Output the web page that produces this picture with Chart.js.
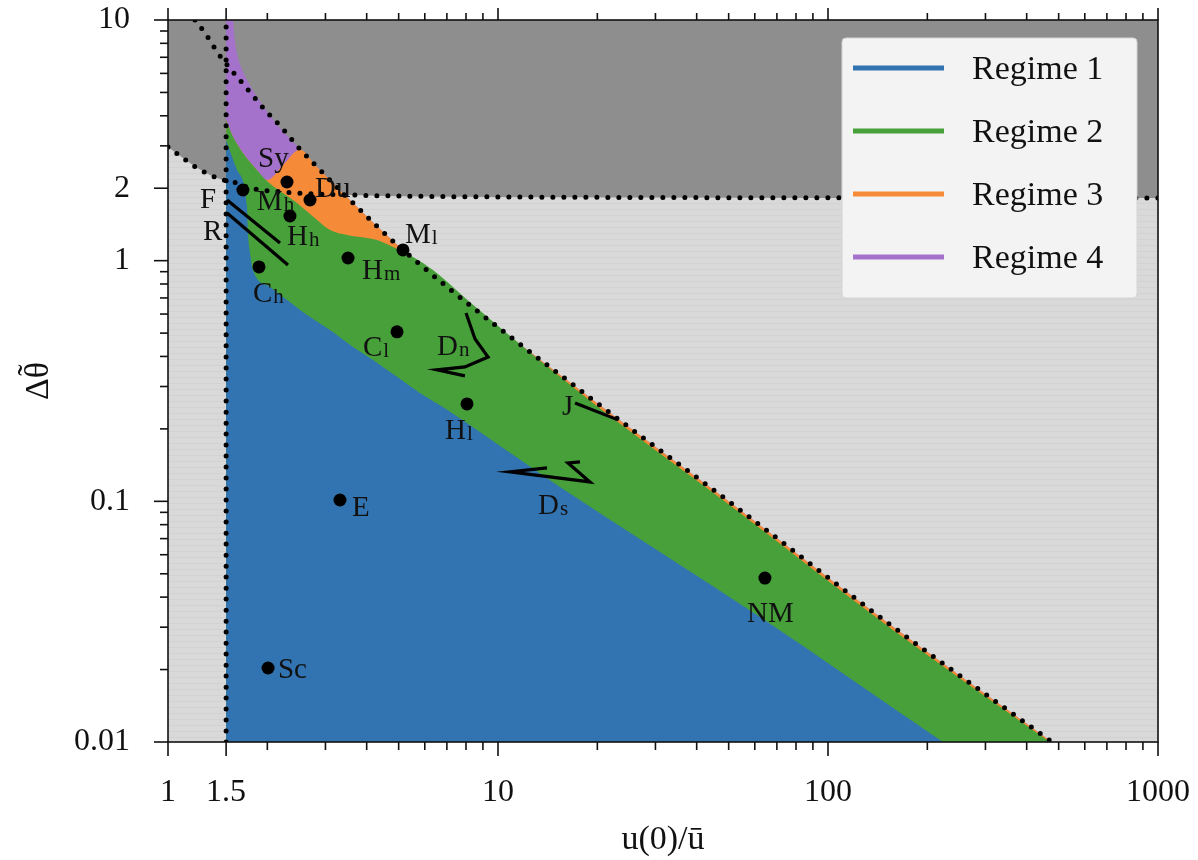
<!DOCTYPE html>
<html>
<head>
<meta charset="utf-8">
<script src="https://cdn.jsdelivr.net/npm/chart.js@4.4.0/dist/chart.umd.min.js"></script>
<style>
  html, body { margin: 0; padding: 0; background: #fff; }
</style>
</head>
<body>
<canvas id="chart" width="1198" height="860"></canvas>
<script>
// region boundaries (x = u(0)/ū, y = Δθ̃)
const darkX = [1, 1.11, 1.224, 1.34, 1.468, 1.619, 1.772, 2.232, 3.56, 10.14, 1000];
const darkY = [2.97, 2.67, 2.43, 2.27, 2.164, 2.10, 2.005, 1.929, 1.875, 1.84, 1.82];

const upperX = [1.207, 1.295, 1.417, 1.574, 1.772, 1.967, 2.216, 2.477, 2.79, 3.56, 5.153, 19.4, 49.4, 157.4, 477];
const upperY = [10, 8.83, 7.29, 6.08, 5.02, 4.23, 3.56, 2.97, 2.50, 1.787, 1.108, 0.2638, 0.1013, 0.0301, 0.01];

const lineX = [1.5, 1.5];
const lineY = [0.01, 10];

// top edge of each regime (filled down to the bottom axis, drawn 4 -> 1)
const reg4X = [1.5, 1.575, 1.59, 1.62, 1.68, 1.78, 1.92, 2.1, 2.3, 2.55, 2.79, 3.56, 5.153, 19.4, 49.4, 157.4, 477];
const reg4Y = [10, 10, 8.5, 7.2, 6.2, 5.3, 4.5, 3.8, 3.3, 2.85, 2.50, 1.787, 1.108, 0.2638, 0.1013, 0.0301, 0.01];
const reg3X = [1.5, 1.574, 1.687, 1.859, 1.995, 2.232, 2.512, 2.79, 3.56, 5.153, 19.4, 49.4, 157.4, 477];
const reg3Y = [3.84, 3.27, 2.80, 2.38, 2.164, 2.50, 2.90, 2.50, 1.787, 1.108, 0.2638, 0.1013, 0.0301, 0.01];
const reg2X = [1.5, 1.574, 1.687, 1.859, 1.995, 2.46, 2.83, 3.097, 3.487, 3.818, 4.3, 4.807, 5.526, 6.353, 7.305, 8.23, 19.4, 49.4, 157.4, 470];
const reg2Y = [3.84, 3.27, 2.80, 2.38, 2.144, 1.737, 1.476, 1.341, 1.279, 1.254, 1.219, 1.140, 1.036, 0.915, 0.778, 0.671, 0.2564, 0.0985, 0.0292, 0.01];
const reg1X = [1.5, 1.619, 1.735, 1.747, 1.772, 1.809, 2.036, 2.294, 2.694, 3.097, 3.636, 4.18, 4.943, 5.80, 7.01, 11.1, 15.41, 62.2, 223];
const reg1Y = [3.17, 2.38, 1.67, 1.303, 1.077, 0.915, 0.778, 0.687, 0.583, 0.515, 0.438, 0.387, 0.329, 0.282, 0.240, 0.156, 0.1148, 0.0331, 0.01];

const regimeNames = ['Regime 1', 'Regime 2', 'Regime 3', 'Regime 4'];
const regimeColors = ['#3274b1', '#47a03a', '#f58b38', '#a472cb'];

// trajectories
const trajFX = [1.51, 2.185],  trajFY = [1.787, 1.184];
const trajRX = [1.51, 2.31],   trajRY = [1.579, 0.960];
const trajDnX = [8.00, 8.52, 9.33, 7.94, 6.53, 7.94];
const trajDnY = [0.606, 0.473, 0.398, 0.362, 0.352, 0.332];
const trajJX = [17.12, 23.1],  trajJY = [0.2564, 0.218];
const trajDsX = [14.08, 10.87, 19.0, 16.3, 17.72];
const trajDsY = [0.1377, 0.1325, 0.1204, 0.1444, 0.1458];

// single cases
const dotX = [1.687, 2.294, 2.694, 2.342, 5.153, 3.512, 1.887, 4.943, 8.056, 3.32, 2.01, 64.4];
const dotY = [1.966, 2.123, 1.787, 1.533, 1.108, 1.026, 0.942, 0.506, 0.254, 0.1013, 0.0203, 0.048];

// annotations: main letter, small part, left x, centre y
const noteMain = ['F', 'R', 'M', 'Sy', 'Du', 'H', 'M', 'H', 'C', 'C', 'D', 'H', 'J', 'D', 'E', 'Sc', 'NM'];
const noteSub  = ['', '', 'h', '', '', 'h', 'l', 'm', 'h', 'l', 'n', 'l', '', 's', '', '', ''];
const noteX = [1.25, 1.276, 1.859, 1.874, 2.79, 2.294, 5.226, 3.871, 1.808, 3.898, 6.535, 6.91, 15.63, 13.22, 3.61, 2.154, 56.8];
const noteY = [1.822, 1.341, 1.784, 2.697, 2.024, 1.279, 1.304, 0.924, 0.741, 0.442, 0.448, 0.1997, 0.2514, 0.0976, 0.0956, 0.0203, 0.0347];

// axis ticks
const xTickValues = [1, 1.5, 10, 100, 1000];
const xTickLabels = ['1', '1.5', '10', '100', '1000'];
const xMinor = [2, 3, 4, 5, 6, 7, 8, 9, 20, 30, 40, 50, 60, 70, 80, 90, 200, 300, 400, 500, 600, 700, 800, 900];
const yTickValues = [0.01, 0.1, 1, 2, 10];
const yTickLabels = ['0.01', '0.1', '1', '2', '10'];
const yMinor = [0.02, 0.03, 0.04, 0.05, 0.06, 0.07, 0.08, 0.09, 0.2, 0.3, 0.4, 0.5, 0.6, 0.7, 0.8, 0.9, 3, 4, 5, 6, 7, 8, 9];

const pts = (xs, ys) => xs.map((x, i) => ({ x: x, y: ys[i] }));
const SERIF = "'Liberation Serif', 'DejaVu Serif', serif";

Chart.defaults.font.family = SERIF;
Chart.defaults.color = '#111';

function area(label, xs, ys, color, fill, order) {
  return {
    label: label, data: pts(xs, ys), showLine: true, fill: fill,
    backgroundColor: color, borderColor: 'rgba(0,0,0,0)', borderWidth: 0,
    pointRadius: 0, cubicInterpolationMode: 'monotone', order: order
  };
}
function dotted(label, xs, ys) {
  return {
    label: label, data: pts(xs, ys), showLine: true, fill: false,
    borderColor: '#000', borderWidth: 5, borderDash: [0, 11], borderCapStyle: 'round',
    pointRadius: 0, cubicInterpolationMode: 'monotone', order: 4
  };
}
function traj(label, xs, ys) {
  return {
    label: label, data: pts(xs, ys), showLine: true, fill: false,
    borderColor: '#000', borderWidth: 3.2, pointRadius: 0, order: 3
  };
}

const backdrop = {
  id: 'backdrop',
  beforeDatasetsDraw(chart) {
    const { ctx, chartArea: a } = chart;
    ctx.save();
    ctx.fillStyle = '#d9d9d9';
    ctx.fillRect(a.left, a.top, a.right - a.left, a.bottom - a.top);
    ctx.strokeStyle = 'rgba(0,0,0,0.03)';
    ctx.lineWidth = 1;
    for (let y = a.top + 3; y < a.bottom; y += 6) {
      ctx.beginPath();
      ctx.moveTo(a.left, y + 0.5);
      ctx.lineTo(a.right, y + 0.5);
      ctx.stroke();
    }
    ctx.restore();
  }
};

const notes = {
  id: 'notes',
  afterDatasetsDraw(chart) {
    const { ctx } = chart;
    const xs = chart.scales.x, ys = chart.scales.y;
    ctx.save();
    ctx.fillStyle = '#111';
    ctx.textAlign = 'left';
    ctx.textBaseline = 'alphabetic';
    noteMain.forEach((m, i) => {
      const px = xs.getPixelForValue(noteX[i]);
      const py = ys.getPixelForValue(noteY[i]) + 10;
      ctx.font = '29px ' + SERIF;
      ctx.fillText(m, px, py);
      if (noteSub[i]) {
        const w = ctx.measureText(m).width;
        ctx.font = '21px ' + SERIF;
        ctx.fillText(noteSub[i], px + w + 1, py + 1);
      }
    });
    ctx.restore();
  }
};

// y axis title Δθ with a tilde over the θ
const yTitle = {
  id: 'yTitle',
  afterDraw(chart) {
    const { ctx, chartArea: a } = chart;
    ctx.save();
    ctx.translate(36, (a.top + a.bottom) / 2);
    ctx.rotate(-Math.PI / 2);
    ctx.font = '34px ' + SERIF;
    ctx.fillStyle = '#111';
    ctx.textBaseline = 'alphabetic';
    ctx.textAlign = 'left';
    const wD = ctx.measureText('Δ').width, wT = ctx.measureText('θ').width;
    const x0 = -(wD + wT) / 2;
    ctx.fillText('Δθ', x0, 12);
    ctx.textAlign = 'center';
    ctx.fillText('˜', x0 + wD + wT / 2, 5);
    ctx.restore();
  }
};

const frame = {
  id: 'frame',
  afterDraw(chart) {
    const { ctx, chartArea: a } = chart;
    const xs = chart.scales.x, ys = chart.scales.y;
    ctx.save();
    ctx.strokeStyle = '#111';
    ctx.lineWidth = 1.6;
    ctx.strokeRect(a.left, a.top, a.right - a.left, a.bottom - a.top);
    const tick = (x1, y1, x2, y2) => { ctx.beginPath(); ctx.moveTo(x1, y1); ctx.lineTo(x2, y2); ctx.stroke(); };
    xTickValues.forEach(v => {
      const p = xs.getPixelForValue(v);
      tick(p, a.bottom, p, a.bottom + 14);
      tick(p, a.top, p, a.top - 12);
    });
    xMinor.forEach(v => {
      const p = xs.getPixelForValue(v);
      tick(p, a.bottom, p, a.bottom + 8);
      tick(p, a.top, p, a.top - 7);
    });
    yTickValues.forEach(v => {
      const p = ys.getPixelForValue(v);
      tick(a.left, p, a.left - 14, p);
    });
    yMinor.forEach(v => {
      const p = ys.getPixelForValue(v);
      tick(a.left, p, a.left - 8, p);
    });
    ctx.restore();
  }
};

const regimeLegend = {
  id: 'regimeLegend',
  afterDraw(chart) {
    const { ctx, chartArea: a } = chart;
    const left = a.right - 316, top = a.top + 18, w = 295, h = 260;
    ctx.save();
    ctx.fillStyle = '#f3f3f3';
    ctx.strokeStyle = '#d4d4d4';
    ctx.lineWidth = 1;
    ctx.beginPath();
    ctx.roundRect(left, top, w, h, 4);
    ctx.fill();
    ctx.stroke();
    ctx.font = '34px ' + SERIF;
    ctx.textBaseline = 'middle';
    ctx.textAlign = 'left';
    regimeNames.forEach((name, i) => {
      const ds = chart.data.datasets.find(d => d.label === name);
      const y = top + 30 + i * 63;
      ctx.strokeStyle = ds.backgroundColor;
      ctx.lineWidth = 5;
      ctx.beginPath();
      ctx.moveTo(left + 11, y);
      ctx.lineTo(left + 102, y);
      ctx.stroke();
      ctx.fillStyle = '#111';
      ctx.fillText(name, left + 130, y + 2);
    });
    ctx.restore();
  }
};

new Chart(document.getElementById('chart'), {
  type: 'scatter',
  data: {
    datasets: [
      area('dark', darkX, darkY, '#8e8e8e', 'end', 10),
      area(regimeNames[3], reg4X, reg4Y, regimeColors[3], 'start', 9),
      area(regimeNames[2], reg3X, reg3Y, regimeColors[2], 'start', 8),
      area(regimeNames[1], reg2X, reg2Y, regimeColors[1], 'start', 7),
      area(regimeNames[0], reg1X, reg1Y, regimeColors[0], 'start', 6),
      dotted('darkEdge', darkX, darkY),
      dotted('upperEdge', upperX, upperY),
      dotted('x15', lineX, lineY),
      traj('F', trajFX, trajFY),
      traj('R', trajRX, trajRY),
      traj('Dn', trajDnX, trajDnY),
      traj('J', trajJX, trajJY),
      traj('Ds', trajDsX, trajDsY),
      {
        label: 'cases', data: pts(dotX, dotY), showLine: false,
        pointRadius: 6.5, pointBackgroundColor: '#000', pointBorderWidth: 0, order: 2
      }
    ]
  },
  options: {
    responsive: false,
    animation: false,
    layout: { padding: { top: 20, right: 40, left: 0, bottom: 0 } },
    plugins: { legend: { display: false }, tooltip: { enabled: false } },
    scales: {
      x: {
        type: 'logarithmic', min: 1, max: 1000, position: 'bottom',
        grid: { display: false }, border: { display: false },
        ticks: { autoSkip: false, maxRotation: 0, padding: 23, font: { size: 32 },
                 callback: (v, i) => xTickLabels[i] },
        afterBuildTicks: s => { s.ticks = xTickValues.map(v => ({ value: v })); },
        afterFit: s => { s.height = 118; s.paddingLeft = 0; s.paddingRight = 0; },
        title: { display: true, text: 'u(0)/ū', font: { size: 34 }, padding: { top: 0, bottom: 0 } }
      },
      y: {
        type: 'logarithmic', min: 0.01, max: 10,
        grid: { display: false }, border: { display: false },
        ticks: { autoSkip: false, padding: 30, font: { size: 32 },
                 callback: (v, i) => yTickLabels[i] },
        afterBuildTicks: s => { s.ticks = yTickValues.map(v => ({ value: v })); },
        afterFit: s => { s.width = 168; s.paddingTop = 0; s.paddingBottom = 0; },
        title: { display: false }
      }
    }
  },
  plugins: [backdrop, notes, yTitle, frame, regimeLegend]
});
</script>
</body>
</html>
